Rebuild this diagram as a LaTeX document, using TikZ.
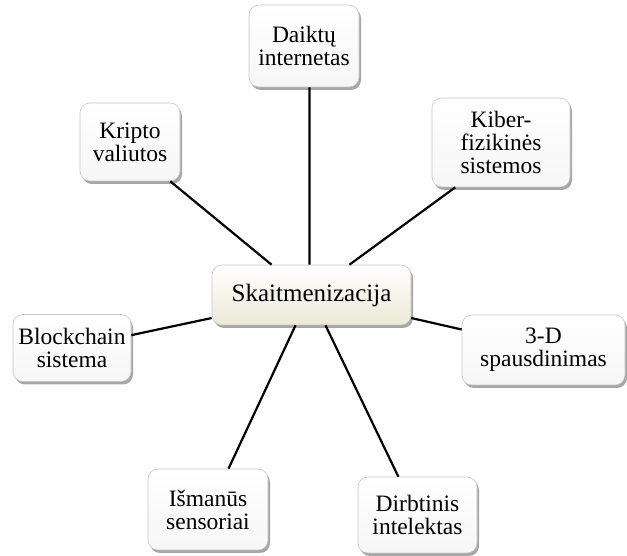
\documentclass[tikz,border=0pt]{standalone}
\usepackage{fontspec}
\setmainfont{Liberation Serif}
\usetikzlibrary{shadows,calc}
\begin{document}
\begin{tikzpicture}[x=1pt,y=1pt,
  box/.style={draw=gray!45, line width=0.6pt, rounded corners=10pt,
    top color=white, bottom color=gray!7, align=center, inner sep=0pt,
    font=\fontsize{23.5}{23}\selectfont,
    drop shadow={shadow xshift=2pt, shadow yshift=-3pt, fill=black, opacity=0.35}},
  centerbox/.style={box, bottom color={rgb,255:red,236;green,233;blue,214},
    font=\fontsize{25}{26}\selectfont},
  link/.style={line width=2.2pt, black}]
\useasboundingbox (0,0) rectangle (627,556);
\node[box, minimum width=110, minimum height=82] (daikt) at (304,510) {Daiktų\\internetas};
\node[box, minimum width=100, minimum height=78] (kripto) at (130,414) {Kripto\\valiutos};
\node[box, minimum width=138, minimum height=89] (kiber) at (501,413.5) {Kiber-\\fizikinės\\sistemos};
\node[centerbox, minimum width=199, minimum height=60] (skait) at (311.5,261) {Skaitmenizacija};
\node[box, minimum width=118, minimum height=67] (block) at (72,208) {Blockchain\\sistema};
\node[box, minimum width=163, minimum height=70] (trid) at (543.5,206) {3-D\\spausdinimas};
\node[box, minimum width=120, minimum height=81] (isman) at (208,46.5) {Išmanūs\\sensoriai};
\node[box, minimum width=119, minimum height=76] (dirb) at (417.5,41) {Dirbtinis\\intelektas};

\coordinate (sDaikt) at ($(skait.north west)!0.49!(skait.north east)$);
\coordinate (sKripto) at ($(skait.north west)!0.30!(skait.north east)$);
\coordinate (sKiber) at ($(skait.north west)!0.69!(skait.north east)$);
\coordinate (sIsman) at ($(skait.south west)!0.42!(skait.south east)$);
\coordinate (sDirb) at ($(skait.south west)!0.57!(skait.south east)$);
\coordinate (sBlock) at ($(skait.north west)!0.88!(skait.south west)$);
\coordinate (sTrid) at ($(skait.north east)!0.88!(skait.south east)$);

\coordinate (eDaikt) at ($(daikt.south west)!0.55!(daikt.south east)$);
\coordinate (eKripto) at ($(kripto.south west)!0.9!(kripto.south east)$);
\coordinate (eKiber) at ($(kiber.south west)!0.17!(kiber.south east)$);
\coordinate (eBlock) at ($(block.north east)!0.31!(block.south east)$);
\coordinate (eTrid) at ($(trid.north west)!0.21!(trid.south west)$);
\coordinate (eIsman) at ($(isman.north west)!0.67!(isman.north east)$);
\coordinate (eDirb) at ($(dirb.north west)!0.34!(dirb.north east)$);

\draw[link] (sDaikt) -- (eDaikt);
\draw[link] (sKripto) -- (eKripto);
\draw[link] (sKiber) -- (eKiber);
\draw[link] (sIsman) -- (eIsman);
\draw[link] (sDirb) -- (eDirb);
\draw[link] (sBlock) -- (eBlock);
\draw[link] (sTrid) -- (eTrid);
\end{tikzpicture}
\end{document}
